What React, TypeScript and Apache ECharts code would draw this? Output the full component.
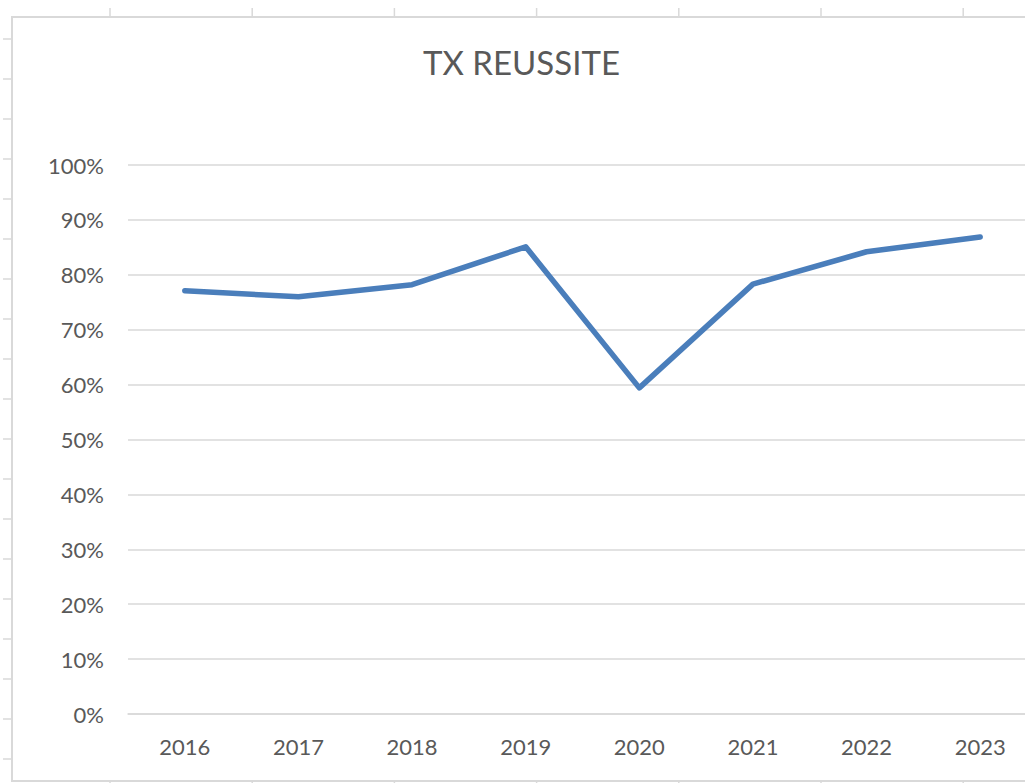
import React, { useEffect, useRef } from "react";
import * as echarts from "echarts";

const years = ["2016", "2017", "2018", "2019", "2020", "2021", "2022", "2023"];
const successRate = [0.771, 0.76, 0.782, 0.851, 0.594, 0.783, 0.842, 0.869];
const title = "TX REUSSITE";

const TEXT = "#595959";
const GRID = "#d9d9d9";
const FONT = "Lato, 'Open Sans', sans-serif";

function sheetDecor() {
  const els: any[] = [];
  els.push({
    type: "rect",
    shape: { x: 12, y: 17, width: 1040, height: 764 },
    style: { fill: "none", stroke: GRID, lineWidth: 2 },
    silent: true,
    z: -10,
  });
  for (let k = 0; k < 19; k++) {
    const y = 39 + 40 * k;
    els.push({
      type: "line",
      shape: { x1: 3, y1: y, x2: 12, y2: y },
      style: { stroke: GRID, lineWidth: 1.5 },
      silent: true,
      z: -10,
    });
  }
  for (let k = 0; k < 7; k++) {
    const x = 110 + 142.2 * k;
    els.push({
      type: "line",
      shape: { x1: x, y1: 8, x2: x, y2: 17 },
      style: { stroke: GRID, lineWidth: 1.5 },
      silent: true,
      z: -10,
    });
    els.push({
      type: "line",
      shape: { x1: x, y1: 781, x2: x, y2: 783 },
      style: { stroke: GRID, lineWidth: 1.5 },
      silent: true,
      z: -10,
    });
  }
  return els;
}

export default function App() {
  const ref = useRef<HTMLDivElement>(null);

  useEffect(() => {
    if (!ref.current) return;
    const chart = echarts.init(ref.current, null, { renderer: "svg" });
    chart.setOption({
      animation: false,
      backgroundColor: "#ffffff",
      title: {
        text: title,
        left: 418,
        top: 40,
        textStyle: {
          fontFamily: FONT,
          fontSize: 33,
          fontWeight: "normal",
          color: TEXT,
        },
      },
      grid: { left: 128, top: 165, width: 909, height: 549, containLabel: false },
      xAxis: {
        type: "category",
        data: years,
        boundaryGap: true,
        axisLine: { show: true, lineStyle: { color: GRID, width: 1.5 } },
        axisTick: { show: false },
        axisLabel: {
          color: TEXT,
          fontFamily: FONT,
          fontSize: 22,
          margin: 21,
        },
      },
      yAxis: {
        type: "value",
        min: 0,
        max: 1,
        interval: 0.1,
        axisLine: { show: false },
        axisTick: { show: false },
        splitLine: { lineStyle: { color: GRID, width: 1.5 } },
        axisLabel: {
          color: TEXT,
          fontFamily: FONT,
          fontSize: 22,
          margin: 24,
          formatter: (v: number) => `${Math.round(v * 100)}%`,
        },
      },
      series: [
        {
          type: "line",
          name: title,
          data: successRate,
          showSymbol: false,
          symbol: "none",
          lineStyle: { color: "#4a7ebb", width: 5.5, cap: "round", join: "round" },
          itemStyle: { color: "#4a7ebb" },
        },
      ],
      graphic: sheetDecor(),
    });
    return () => chart.dispose();
  }, []);

  return (
    <div
      style={{
        position: "fixed",
        left: 0,
        top: 0,
        width: 1025,
        height: 783,
        overflow: "hidden",
      }}
    >
      <div ref={ref} style={{ width: 1060, height: 783 }} />
    </div>
  );
}
